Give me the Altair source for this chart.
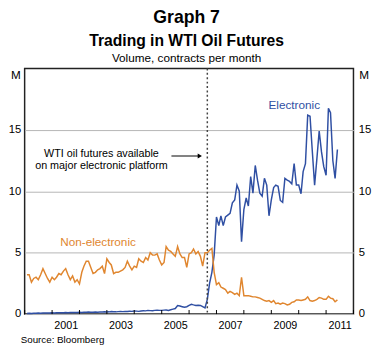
import altair as alt
import pandas as pd

# Monthly volumes (millions of contracts), Feb 2000 onwards
non_electronic = [
    3.2, 3.2, 2.6, 2.9, 3.0, 2.8, 3.2, 3.7, 3.3, 2.9,
    2.6, 3.0, 2.8, 3.0, 3.3, 3.2, 3.5, 3.7, 3.2, 2.8,
    3.1, 2.6, 2.8, 2.45, 3.4, 3.9, 4.3, 4.3, 3.8, 3.3,
    3.4, 3.6, 3.7, 3.9, 3.3, 4.5, 4.2, 4.0, 3.3, 3.4,
    3.4, 3.5, 3.6, 3.8, 4.3, 3.9, 3.6, 3.9, 3.8, 4.5,
    4.3, 4.2, 4.6, 4.4, 5.0, 4.8, 4.8, 4.9, 4.4, 4.0,
    4.2, 5.5, 5.2, 5.1, 4.9, 4.7, 5.5, 4.9, 4.6, 4.6,
    3.8, 4.9, 5.0, 5.3, 4.9, 5.1, 4.7, 3.9, 5.0, 5.0,
    5.2, 5.35, 3.4, 2.4, 2.55, 2.2, 2.1, 2.0, 1.7, 1.85,
    1.75, 1.6, 1.7, 1.5, 3.0, 1.5, 1.5, 1.5, 1.45, 1.4,
    1.4, 1.35, 1.3, 1.2, 1.1, 1.05, 1.1, 0.95, 1.1, 0.85,
    0.9, 0.8, 0.9, 0.85, 0.75, 0.8, 0.95, 1.0, 1.15, 1.15,
    1.1, 1.15, 1.2, 1.4, 1.1, 1.05, 1.1, 1.2, 1.35, 1.3,
    1.2, 1.2, 1.45, 1.3, 1.25, 1.0, 1.15,
]
electronic = [
    0.05, 0.06, 0.05, 0.07, 0.06, 0.08, 0.07, 0.08, 0.09, 0.08,
    0.08, 0.1, 0.09, 0.1, 0.1, 0.11, 0.1, 0.12, 0.11, 0.12,
    0.12, 0.13, 0.12, 0.14, 0.13, 0.15, 0.14, 0.16, 0.15, 0.14,
    0.16, 0.15, 0.17, 0.16, 0.18, 0.17, 0.18, 0.2, 0.19, 0.18,
    0.2, 0.21, 0.2, 0.22, 0.21, 0.23, 0.22, 0.25, 0.24, 0.22,
    0.25, 0.27, 0.26, 0.3, 0.28, 0.27, 0.3, 0.32, 0.3, 0.3,
    0.32, 0.33, 0.3, 0.35, 0.4, 0.45, 0.7, 0.65, 0.6, 0.55,
    0.6, 0.7, 0.8, 0.75, 0.7, 0.72, 0.7, 0.6, 0.5, 1.2,
    2.5, 3.4, 4.8, 7.9, 7.2, 8.0, 7.2, 7.9, 8.05, 8.2,
    9.05, 9.3, 10.5, 10.0, 5.9, 8.5, 9.45, 8.8, 11.2, 9.85,
    12.1, 10.9, 9.85, 9.6, 11.05, 10.5, 8.0, 9.3, 10.3, 10.5,
    10.4, 9.25, 9.1, 11.05, 10.9, 10.8, 10.6, 12.25, 10.5, 10.5,
    9.8, 11.6, 12.25, 16.2, 16.1, 13.3, 10.5, 12.7, 14.9, 13.2,
    12.0, 11.3, 16.75, 16.4, 12.5, 11.05, 13.4,
]
dates = pd.date_range("2000-02-01", periods=len(electronic), freq="MS")
tick_years = [f"{y}-01-01" for y in range(2000, 2013)]
label_years = list(range(2001, 2012, 2))
launch_date = ["2006-09-01"]

BLUE = "#2f4fa3"
ORANGE = "#e0862f"
FONT = "Liberation Sans"
W, H = 336, 251

df = pd.concat([
    pd.DataFrame({"date": dates, "value": electronic, "series": "Electronic"}),
    pd.DataFrame({"date": dates, "value": non_electronic, "series": "Non-electronic"}),
])

xscale = alt.Scale(domain=[alt.DateTime(year=2000, month=1, date=1),
                           alt.DateTime(year=2012, month=1, date=1)])
yscale = alt.Scale(domain=[0, 20], nice=False)

xaxis = alt.Axis(values=[alt.DateTime(year=y, month=7, date=1) for y in label_years],
                 format="%Y", ticks=False, domain=False, grid=False, title=None,
                 labelPadding=6, labelFontSize=11, labelColor="#000")

lines = alt.Chart(df).mark_line(strokeWidth=1.5).encode(
    x=alt.X("date:T", scale=xscale, axis=xaxis),
    y=alt.Y("value:Q", scale=yscale,
            axis=alt.Axis(orient="left", values=[0, 5, 10, 15], grid=True,
                          gridColor="#b5b5b5", gridWidth=1, ticks=False, domain=False,
                          labelPadding=4, labelFontSize=11.5, title=None, labelColor="#000")),
    color=alt.Color("series:N", scale=alt.Scale(domain=["Electronic", "Non-electronic"],
                                                range=[BLUE, ORANGE]), legend=None),
)

ticks_df = pd.DataFrame({"date": pd.to_datetime(tick_years)})
ticks = alt.Chart(ticks_df).mark_rule(color="#000", strokeWidth=1).encode(
    x=alt.X("date:T", scale=xscale),
    y=alt.Y(datum=0, scale=yscale,
            axis=alt.Axis(orient="right", values=[0, 5, 10, 15], grid=False,
                          ticks=False, domain=False, labelPadding=5, labelFontSize=11.5,
                          title=None, labelColor="#000")),
    y2=alt.datum(0.33),
)

launch = alt.Chart(pd.DataFrame({"date": pd.to_datetime(launch_date)})).mark_rule(
    color="#444", strokeWidth=1.5, strokeDash=[2, 2.5]
).encode(x=alt.X("date:T", scale=xscale))


def txt(text, x, y, size=11, color="#000", weight="normal", align="center"):
    return alt.Chart(pd.DataFrame({"a": [0]})).mark_text(
        text=text, fontSize=size, color=color, fontWeight=weight, align=align,
        baseline="alphabetic", font=FONT, lineHeight=13,
    ).encode(x=alt.value(x), y=alt.value(y))


annotations = [
    txt("Graph 7", 165.5, -46, size=18, weight="bold"),
    txt("Trading in WTI Oil Futures", 165.5, -23, size=16, weight="bold"),
    txt("Volume, contracts per month", 165.5, -7, size=12),
    txt("M", -4, 11, size=12, align="right"),
    txt("M", W + 6, 11, size=12, align="left"),
    txt("Electronic", 275.5, 41, size=12, color=BLUE),
    txt("Non-electronic", 75, 181, size=12, color=ORANGE),
    txt(["WTI oil futures available", "on major electronic platform"], 78.5, 90, size=11),
    txt("Source: Bloomberg", -4, 281, size=10, align="left"),
]

arrow_line = alt.Chart(pd.DataFrame({"a": [0]})).mark_rule(color="#000", strokeWidth=1).encode(
    x=alt.value(150), x2=alt.value(179), y=alt.value(89.5))
arrow_head = alt.Chart(pd.DataFrame({"a": [0]})).mark_point(
    shape="triangle-right", filled=True, color="#000", size=25, opacity=1).encode(
    x=alt.value(179), y=alt.value(89.5))

chart = alt.layer(lines, ticks, launch, arrow_line, arrow_head, *annotations).resolve_axis(
    y="independent"
).properties(
    width=W, height=H,
    autosize=alt.AutoSizeParams(type="none"),
    padding={"left": 17, "top": 58, "right": 22, "bottom": 34},
).configure(font=FONT).configure_view(stroke="#222", strokeWidth=1.5).configure_axis(
    labelFont=FONT)

chart.save("out.html", embed_options={"renderer": "svg", "actions": False})
